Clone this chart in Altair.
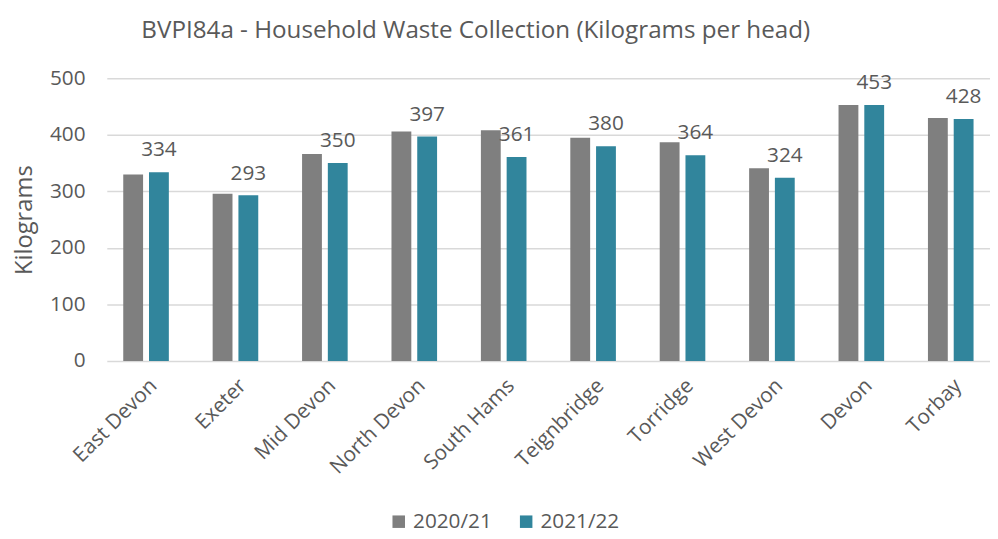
import altair as alt
import pandas as pd

areas = ["East Devon", "Exeter", "Mid Devon", "North Devon", "South Hams",
         "Teignbridge", "Torridge", "West Devon", "Devon", "Torbay"]
years = ["2020/21", "2021/22"]
kg_2020_21 = [330, 296, 366, 406, 408, 395, 387, 341, 453, 430]
kg_2021_22 = [334, 293, 350, 397, 361, 380, 364, 324, 453, 428]
y_ticks = [0, 100, 200, 300, 400, 500]

rows = []
for a, v1, v2 in zip(areas, kg_2020_21, kg_2021_22):
    rows.append({"area": a, "year": years[0], "kg": v1})
    rows.append({"area": a, "year": years[1], "kg": v2})
df = pd.DataFrame(rows)

FONT = "Open Sans"
TXT = "#595959"

x_enc = alt.X("area:N", sort=areas, title=None,
              scale=alt.Scale(paddingInner=0.49, paddingOuter=0.184),
              axis=alt.Axis(labelAngle=-45, labelFontSize=21, labelColor=TXT,
                            labelFont=FONT, domain=False, ticks=False,
                            labelPadding=14, labelAlign="right", labelBaseline="top"))
xoff = alt.XOffset("year:N", sort=years,
                   scale=alt.Scale(domain=years, paddingInner=0.23, paddingOuter=0))
y_enc = alt.Y("kg:Q", title="Kilograms",
              scale=alt.Scale(domain=[0, 500], nice=False),
              axis=alt.Axis(values=y_ticks, labelFontSize=21, labelColor=TXT,
                            labelFont=FONT, titleFont=FONT, titleFontSize=24,
                            titleColor=TXT, titleFontWeight="normal",
                            domain=False, ticks=False, labelPadding=22,
                            titlePadding=13, gridColor="#d9d9d9", gridWidth=1.5))

bars = alt.Chart(df).mark_bar().encode(
    x=x_enc, xOffset=xoff, y=y_enc,
    color=alt.Color("year:N", sort=years,
                    scale=alt.Scale(domain=years, range=["#7f7f7f", "#31859c"]),
                    legend=alt.Legend(title=None, orient="none", direction="horizontal",
                                      legendX=285, legendY=438, labelFontSize=21,
                                      labelColor=TXT, labelFont=FONT, symbolType="square",
                                      symbolSize=160, symbolStrokeWidth=0,
                                      columnPadding=24, labelOffset=4)),
)

labels = alt.Chart(df).transform_filter(
    alt.datum.year == years[1]
).mark_text(baseline="bottom", dy=-12, fontSize=21, font=FONT, color=TXT).encode(
    x=alt.X("area:N", sort=areas), xOffset=xoff, y="kg:Q", text="kg:Q"
)

chart = (bars + labels).properties(
    width=894, height=286,
    title=alt.TitleParams("BVPI84a - Household Waste Collection (Kilograms per head)",
                          font=FONT, fontSize=24.5, fontWeight="normal", color=TXT,
                          anchor="start", frame="group", dx=35, offset=24),
    padding={"left": 4, "top": 7, "right": 0, "bottom": 0},
).configure_view(stroke=None)

chart.save("out.html", embed_options={"renderer": "svg", "actions": False})
